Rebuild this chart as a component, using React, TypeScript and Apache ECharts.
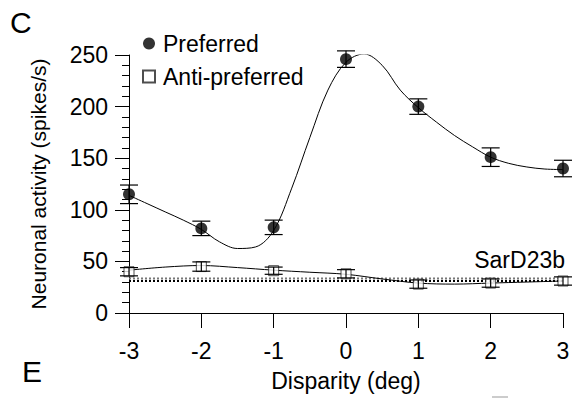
import React, { useEffect, useRef } from "react";
import * as echarts from "echarts";

// Disparity tuning of one neuron (SarD23b)
const disparity = [-3, -2, -1, 0, 1, 2, 3];
const preferred = [115, 82, 83, 246, 200, 151, 140];
const preferredErr = [9, 7, 7, 8, 7.5, 9, 8];
const antiPreferred = [40, 45, 41, 38, 28, 29, 31];
const antiPreferredErr = [4, 4.5, 3.5, 4, 4, 4, 4];

// Fitted tuning curves, sampled along the disparity axis
const fitDisparity = [
  -3, -2.75, -2.5, -2.25, -2, -1.75, -1.5, -1.25, -1, -0.75, -0.5, -0.25, 0,
  0.25, 0.5, 0.75, 1, 1.25, 1.5, 1.75, 2, 2.25, 2.5, 2.75, 3,
];
const preferredFit = [
  114, 106, 98, 90, 81, 69, 62.5, 64, 80, 121, 170, 216, 243, 251, 240, 216,
  199, 185, 172, 161, 151, 145, 141.5, 139.5, 139,
];
const antiFitDisparity = [-3, -2.5, -2, -1.5, -1, -0.5, 0, 0.5, 1, 1.5, 2, 2.5, 3];
const antiPreferredFit = [41.5, 44.5, 46, 44, 41.5, 39.5, 37.5, 33, 29, 28, 29, 30, 31];

// Spontaneous activity band
const spontaneousLow = 31;
const spontaneousHigh = 33.5;

const xTicks = [-3, -2, -1, 0, 1, 2, 3];
const yTicks = [0, 50, 100, 150, 200, 250];

const FONT = "'Liberation Sans', Arial, sans-serif";

function errorBarItem(capHalf: number) {
  return (params: any, api: any) => {
    const x = api.value(0);
    const y = api.value(1);
    const e = api.value(2);
    const top = api.coord([x, y + e]);
    const bot = api.coord([x, y - e]);
    const style = { stroke: "#000", lineWidth: 1.2 };
    return {
      type: "group",
      children: [
        { type: "line", shape: { x1: top[0], y1: top[1], x2: bot[0], y2: bot[1] }, style },
        { type: "line", shape: { x1: top[0] - capHalf, y1: top[1], x2: top[0] + capHalf, y2: top[1] }, style },
        { type: "line", shape: { x1: bot[0] - capHalf, y1: bot[1], x2: bot[0] + capHalf, y2: bot[1] }, style },
      ],
    };
  };
}

export default function App() {
  const ref = useRef<HTMLDivElement>(null);

  useEffect(() => {
    if (!ref.current) return;
    const chart = echarts.init(ref.current, null, { renderer: "svg" });

    const option: any = {
      animation: false,
      backgroundColor: "#fff",
      textStyle: { fontFamily: FONT, color: "#000" },
      grid: { left: 129, right: 11, top: 55, bottom: 85 },
      legend: {
        orient: "vertical",
        left: 137,
        top: 27,
        itemWidth: 12,
        itemHeight: 12,
        itemGap: 10,
        data: ["Preferred", "Anti-preferred"],
        textStyle: { fontFamily: FONT, fontSize: 23, color: "#000", padding: [0, 0, 0, 3] },
      },
      xAxis: {
        type: "value",
        min: -3,
        max: 3,
        interval: 1,
        name: "Disparity (deg)",
        nameLocation: "middle",
        nameGap: 56,
        nameTextStyle: { fontFamily: FONT, fontSize: 23, color: "#000" },
        axisLine: { onZero: false, lineStyle: { color: "#000", width: 1 } },
        axisTick: { length: 15, lineStyle: { color: "#000" } },
        axisLabel: {
          fontFamily: FONT,
          fontSize: 23,
          color: "#000",
          margin: 26,
          formatter: (v: number) => (xTicks.includes(v) ? String(v) : ""),
        },
        splitLine: { show: false },
      },
      yAxis: {
        type: "value",
        min: 0,
        max: 250,
        interval: 50,
        name: "Neuronal activity (spikes/s)",
        nameLocation: "middle",
        nameGap: 80,
        nameTextStyle: { fontFamily: FONT, fontSize: 21, color: "#000" },
        axisLine: { show: true, onZero: false, lineStyle: { color: "#000", width: 1 } },
        axisTick: { length: 14, lineStyle: { color: "#000" } },
        minorTick: { show: true, splitNumber: 5, length: 7, lineStyle: { color: "#000" } },
        axisLabel: {
          fontFamily: FONT,
          fontSize: 23,
          color: "#000",
          margin: 21,
          formatter: (v: number) => (yTicks.includes(v) ? String(v) : ""),
        },
        splitLine: { show: false },
      },
      series: [
        {
          name: "spontaneous-high",
          type: "line",
          data: [[-3, spontaneousHigh], [3, spontaneousHigh]],
          symbol: "none",
          lineStyle: { color: "#777", width: 2, type: [2, 2] },
          z: 1,
        },
        {
          name: "spontaneous-low",
          type: "line",
          data: [[-3, spontaneousLow], [3, spontaneousLow]],
          symbol: "none",
          lineStyle: { color: "#000", width: 2, type: [2, 2] },
          z: 1,
        },
        {
          name: "preferred-fit",
          type: "line",
          data: fitDisparity.map((d, i) => [d, preferredFit[i]]),
          symbol: "none",
          smooth: 0.35,
          lineStyle: { color: "#000", width: 1 },
          z: 2,
        },
        {
          name: "anti-fit",
          type: "line",
          data: antiFitDisparity.map((d, i) => [d, antiPreferredFit[i]]),
          symbol: "none",
          smooth: 0.35,
          lineStyle: { color: "#000", width: 1 },
          z: 2,
        },
        {
          name: "preferred-err",
          type: "custom",
          renderItem: errorBarItem(9),
          data: disparity.map((d, i) => [d, preferred[i], preferredErr[i]]),
          z: 3,
        },
        {
          name: "anti-err",
          type: "custom",
          renderItem: errorBarItem(9),
          data: disparity.map((d, i) => [d, antiPreferred[i], antiPreferredErr[i]]),
          z: 5,
        },
        {
          name: "Preferred",
          type: "scatter",
          symbol: "circle",
          symbolSize: 12,
          data: disparity.map((d, i) => [d, preferred[i]]),
          itemStyle: { color: "#000" },
          z: 4,
        },
        {
          name: "Anti-preferred",
          type: "scatter",
          symbol: "rect",
          symbolSize: 10,
          data: disparity.map((d, i) => [d, antiPreferred[i]]),
          itemStyle: { color: "#fff", borderColor: "#222", borderWidth: 1 },
          z: 4,
        },
      ],
      graphic: [
        { type: "text", left: 10, top: 7, style: { text: "C", font: `30px ${FONT}`, fill: "#000" } },
        { type: "text", left: 22, top: 356, style: { text: "E", font: `30px ${FONT}`, fill: "#000" } },
        {
          type: "text",
          right: 9,
          top: 248,
          style: { text: "SarD23b", font: `23px ${FONT}`, fill: "#000" },
        },
        {
          type: "line",
          shape: { x1: 492, y1: 397, x2: 508, y2: 397 },
          style: { stroke: "#999", lineWidth: 1 },
        },
      ],
    };

    chart.setOption(option);
    return () => chart.dispose();
  }, []);

  return (
    <div
      ref={ref}
      style={{ width: 574, height: 398, position: "absolute", left: 0, top: 0 }}
    />
  );
}
